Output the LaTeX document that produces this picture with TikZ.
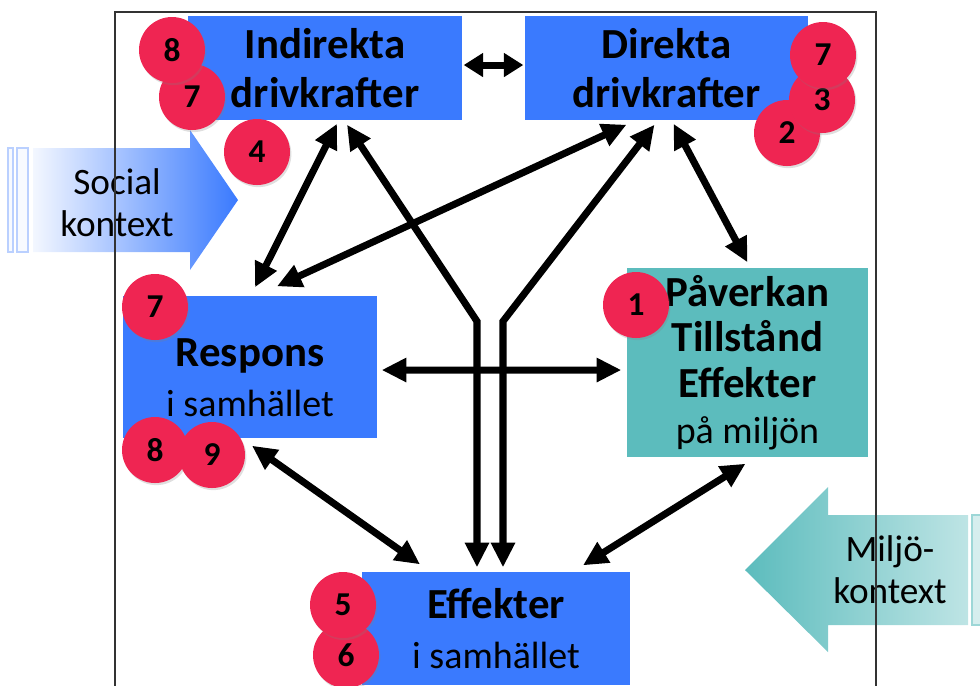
\documentclass[tikz,border=0pt]{standalone}
\usepackage{fontspec}
\setmainfont{Carlito}
\usetikzlibrary{arrows.meta,calc,shadows}
\definecolor{boxblue}{RGB}{58,122,254}
\definecolor{boxteal}{RGB}{92,188,189}
\definecolor{dotred}{RGB}{239,37,82}
\newcommand{\regtext}{\mdseries\fontsize{10.8}{13}\selectfont}

\begin{document}
\begin{tikzpicture}
  [x=0.1mm,y=-0.1mm,
   box/.style={rectangle,fill=boxblue,inner sep=0pt,align=center,
     font=\fontsize{12.2}{14}\selectfont\bfseries},
   dot/.style={circle,fill=dotred,minimum size=6.6mm,inner sep=0pt,
     font=\fontsize{9.5}{11}\selectfont\bfseries,
     drop shadow={opacity=.25,shadow xshift=.4pt,shadow yshift=-.6pt}},
   ctx/.style={align=center,font=\fontsize{10.6}{12}\selectfont},
   link/.style={line width=2pt,{Triangle[length=7pt,width=6.5pt]}-{Triangle[length=7pt,width=6.5pt]}}]
  \useasboundingbox (0,0) rectangle (980,685);

  % context arrows
  \draw[boxblue!35,fill=boxblue!4] (8,148) rectangle (13,252);
  \draw[boxblue!35,fill=boxblue!4] (17,148) rectangle (28,252);
  \shade[left color=boxblue!6,middle color=boxblue,right color=boxblue]
    (33,148) -- (190,148) -- (190,130) -- (238,200) -- (190,270) -- (190,252) -- (33,252) -- cycle;
  \node[ctx] (soc) at (117,203) {Social\\kontext};
  \draw[boxteal!60,fill=boxteal!25] (972,515) rectangle (990,625);
  \shade[left color=boxteal,middle color=boxteal!90,right color=boxteal!40]
    (745,570) -- (828,487) -- (828,515) -- (968,515) -- (968,625) -- (828,625) -- (828,652) -- cycle;
  \node[ctx] (milj) at (890,570) {Miljö-\\kontext};

  % frame
  \draw[black!80,line width=.4pt] (115,690) -- (115,12) -- (876,12) -- (876,690);

  \node[box,minimum width=27.4mm,minimum height=10.4mm] (ind) at (325,68) {Indirekta\\drivkrafter};
  \node[box,minimum width=28.3mm,minimum height=10.4mm] (dir) at (666.5,68) {Direkta\\drivkrafter};
  \node[box,minimum width=25.4mm,minimum height=14.2mm] (resp) at (250,367)
    {\rule{0pt}{14pt}Respons\\\regtext i samhället};
  \node[box,fill=boxteal,minimum width=24.1mm,minimum height=18.9mm,
    font=\fontsize{12.2}{13}\selectfont\bfseries] (pav) at (747.5,362.5)
    {Påverkan\\Tillstånd\\Effekter\\\regtext på miljön};
  \node[box,minimum width=26.8mm,minimum height=11.3mm] (eff) at (496,628.5) {Effekter\\\regtext i samhället};

  % arrow ends
  \coordinate (a1) at ($(ind.east)+(1,-3)$);
  \coordinate (a2) at ($(dir.west)+(-1,-3)$);
  \coordinate (b1) at ($(ind.south)+(12,3)$);
  \coordinate (b2) at ($(resp.north)+(5,-8)$);
  \coordinate (c1) at ($(dir.south)+(-40,4)$);
  \coordinate (c2) at ($(resp.north)+(27,-9)$);
  \coordinate (d1) at ($(dir.south)+(7,3)$);
  \coordinate (d2) at ($(pav.north)+(0,-5)$);
  \coordinate (e1) at ($(resp.east)+(4,3)$);
  \coordinate (e2) at ($(pav.west)+(-5,7.5)$);
  \coordinate (f1) at ($(resp.south)+(2,7)$);
  \coordinate (f2) at ($(eff.north)+(-76,-7)$);
  \coordinate (g1) at ($(pav.south)+(-2,6)$);
  \coordinate (g2) at ($(eff.north)+(87,-6)$);

  \draw[link,{Triangle[length=5.5pt,width=6.5pt]}-{Triangle[length=5.5pt,width=6.5pt]}] (a1) -- (a2);
  \foreach \from/\to in {b1/b2,c1/c2,d1/d2,e1/e2,f1/f2,g1/g2}
    \draw[link] (\from) -- (\to);

  % the two long ones
  \draw[link,line join=miter] ($(ind.south)+(22,4)$) -- ($(eff.north)+(-19,-250)$) -- ($(eff.north)+(-19,-4)$);
  \draw[link,line join=miter] ($(dir.south)+(-12,4)$) -- ($(eff.north)+(7,-250)$) -- ($(eff.north)+(7,-4)$);

  % numbers
  \node[dot] (i4) at (257,152) {4};
  \node[dot] (i7) at (192,97) {7};
  \node[dot] (i8) at (172,50) {8};
  \node[dot] (d2n) at (787,133) {2};
  \node[dot] (d3) at (822,100) {3};
  \node[dot] (d7) at (823,55) {7};
  \node[dot] (r7) at (155,307) {7};
  \node[dot] (r8) at (155,450) {8};
  \node[dot] (r9) at (212,455) {9};
  \node[dot] (p1) at (636,305) {1};
  \node[dot] (e6) at (346,655) {6};
  \node[dot] (e5) at (343,605) {5};
\end{tikzpicture}
\end{document}
